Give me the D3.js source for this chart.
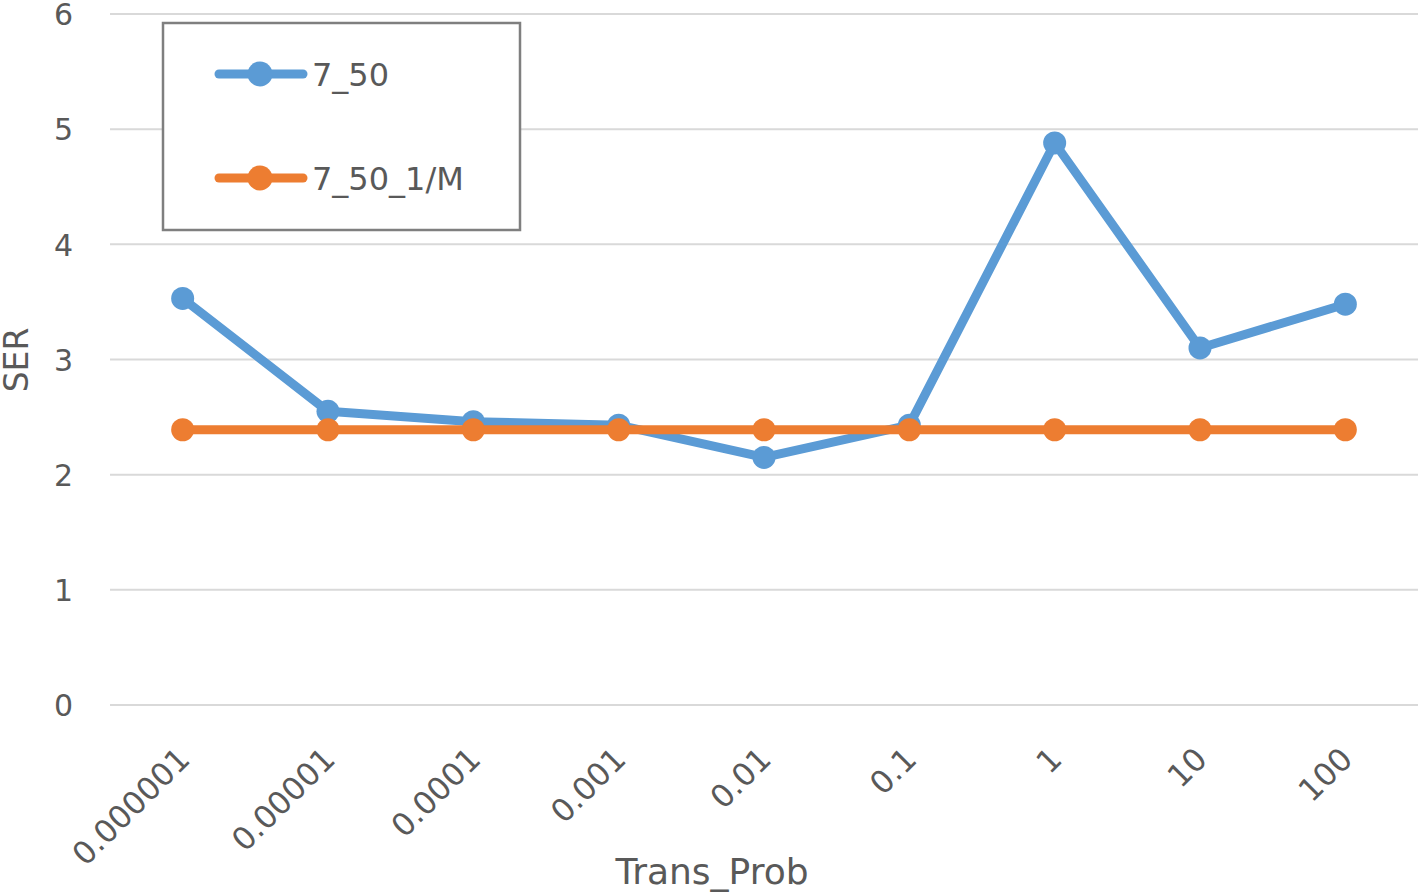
<!DOCTYPE html>
<html><head><meta charset="utf-8">
<script src="https://cdn.jsdelivr.net/npm/d3@7"></script>
<style>html,body{margin:0;padding:0;background:#fff;}svg{display:block;}</style>
</head><body>
<svg id="chart" width="1418" height="893"></svg>
<script>
const categories = ["0.000001","0.00001","0.0001","0.001","0.01","0.1","1","10","100"];
const series750 = [3.53, 2.55, 2.46, 2.43, 2.15, 2.43, 4.88, 3.10, 3.48];
const series750M = [2.39, 2.39, 2.39, 2.39, 2.39, 2.39, 2.39, 2.39, 2.39];
const yTicks = [0,1,2,3,4,5,6];
const seriesNames = ["7_50", "7_50_1/M"];
const colors = ["#5b9bd5", "#ed7d31"];

(function () {
const svg = d3.select("#chart");
const font = "'DejaVu Sans', 'Open Sans', sans-serif";
const textColor = "#595959";
const mLeft = 110, mRight = 1418, mTop = 14, mBottom = 705;

const x = d3.scaleBand().domain(categories).range([mLeft, mRight]);
const y = d3.scaleLinear().domain([0, 6]).range([mBottom, mTop]);

svg.append("g").selectAll("line").data(yTicks).join("line")
  .attr("x1", mLeft).attr("x2", mRight)
  .attr("y1", d => y(d)).attr("y2", d => y(d))
  .attr("stroke", "#d9d9d9").attr("stroke-width", 2);

const yAxis = d3.axisLeft(y).tickValues(yTicks).tickFormat(d3.format("d")).tickSize(0).tickPadding(0);
const yg = svg.append("g").attr("transform", `translate(${mLeft - 37},0)`).call(yAxis);
yg.select(".domain").remove();
yg.selectAll("text").attr("font-family", font).attr("font-size", 30).attr("fill", textColor).attr("dy", "0.36em");

const xAxis = d3.axisBottom(x).tickSize(0).tickPadding(0);
const xg = svg.append("g").attr("transform", `translate(0,${mBottom})`).call(xAxis);
xg.select(".domain").remove();
xg.selectAll("text")
  .attr("font-family", font).attr("font-size", 31.5).attr("fill", textColor)
  .attr("text-anchor", "end").attr("dy", null).attr("y", 0)
  .attr("transform", "translate(9,56) rotate(-45)");

svg.append("text").attr("x", 712).attr("y", 884).attr("text-anchor", "middle")
  .attr("font-family", font).attr("font-size", 36).attr("fill", textColor).text("Trans_Prob");
svg.append("text").attr("transform", "translate(28,360) rotate(-90)").attr("text-anchor", "middle")
  .attr("font-family", font).attr("font-size", 33).attr("fill", textColor).text("SER");

const line = d3.line().x((d, i) => x(categories[i]) + x.bandwidth() / 2).y(d => y(d));
const all = [series750, series750M];
all.forEach((s, k) => {
  const g = svg.append("g");
  g.append("path").datum(s).attr("d", line).attr("fill", "none")
    .attr("stroke", colors[k]).attr("stroke-width", 9).attr("stroke-linejoin", "round");
  g.selectAll("circle").data(s).join("circle")
    .attr("cx", (d, i) => x(categories[i]) + x.bandwidth() / 2)
    .attr("cy", d => y(d)).attr("r", 11.5).attr("fill", colors[k]);
});

const lg = svg.append("g");
lg.append("rect").attr("x", 163).attr("y", 23).attr("width", 357).attr("height", 207)
  .attr("fill", "#fff").attr("stroke", "#7f7f7f").attr("stroke-width", 2.5);
const ly = [74, 178];
seriesNames.forEach((n, k) => {
  lg.append("line").attr("x1", 219).attr("x2", 303).attr("y1", ly[k]).attr("y2", ly[k])
    .attr("stroke", colors[k]).attr("stroke-width", 9).attr("stroke-linecap", "round");
  lg.append("circle").attr("cx", 260).attr("cy", ly[k]).attr("r", 12.5).attr("fill", colors[k]);
  lg.append("text").attr("x", 312).attr("y", ly[k]).attr("dy", "0.36em")
    .attr("font-family", font).attr("font-size", 32).attr("fill", textColor).text(n);
});
})();
</script>
</body></html>
